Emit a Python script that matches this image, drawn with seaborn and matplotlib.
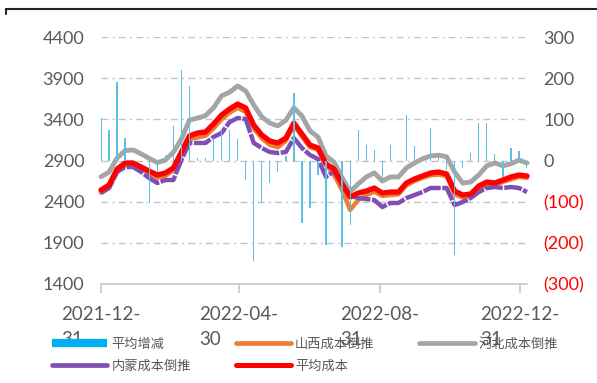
import numpy as np
import pandas as pd
import matplotlib
matplotlib.use("Agg")
import matplotlib.pyplot as plt
import seaborn as sns
from matplotlib.lines import Line2D

# ---------------- data ----------------
dates = pd.date_range("2021-12-31", periods=54, freq="7D")

hebei = [2703, 2760, 2930, 3020, 3028, 2980, 2925, 2875, 2905, 3000,
         3160, 3390, 3415, 3445, 3540, 3685, 3730, 3805, 3745, 3575,
         3430, 3355, 3320, 3390, 3540, 3440, 3260, 3185, 2955, 2880,
         2690, 2520, 2615, 2700, 2750, 2650, 2700, 2700, 2810, 2870,
         2920, 2955, 2965, 2945, 2760, 2625, 2640, 2725, 2835, 2870,
         2835, 2860, 2905, 2870]

avg_cost = [2542, 2602, 2797, 2870, 2870, 2821, 2772, 2724, 2748, 2809,
            3003, 3198, 3234, 3246, 3343, 3453, 3526, 3586, 3538, 3331,
            3210, 3137, 3113, 3173, 3356, 3222, 3088, 3052, 2857, 2797,
            2614, 2457, 2505, 2529, 2566, 2505, 2517, 2517, 2627, 2675,
            2712, 2748, 2760, 2736, 2529, 2481, 2493, 2590, 2639, 2627,
            2663, 2700, 2724, 2712]

shanxi = [2510, 2570, 2770, 2840, 2845, 2800, 2745, 2690, 2715, 2780,
          2970, 3160, 3180, 3200, 3290, 3400, 3480, 3540, 3490, 3290,
          3170, 3090, 3060, 3140, 3330, 3190, 3060, 3030, 2850, 2725,
          2540, 2300, 2420, 2480, 2520, 2470, 2480, 2490, 2600, 2650,
          2690, 2720, 2730, 2710, 2490, 2450, 2460, 2550, 2600, 2600,
          2640, 2670, 2700, 2690]

neimeng = [2505, 2566, 2760, 2821, 2821, 2760, 2687, 2627, 2663, 2663,
           2906, 3113, 3113, 3113, 3186, 3234, 3368, 3416, 3404, 3113,
           3052, 3003, 2991, 3003, 3173, 3052, 2967, 2918, 2700, 2772,
           2600, 2470, 2445, 2432, 2420, 2335, 2384, 2384, 2444, 2481,
           2517, 2566, 2566, 2566, 2359, 2396, 2444, 2517, 2566, 2578,
           2566, 2578, 2566, 2517]

avg_change = [103, 74, 191, 55, 2, -3, -103, -27, 13, 85,
              220, 180, 6, 6, 55, 74, 74, 52, -47, -245,
              -103, -55, -27, 10, 164, -152, -115, -35, -205, 0,
              -209, -157, 74, 38, 25, -47, 38, 0, 110, 35,
              3, 79, 8, -23, -229, -18, 18, 92, 92, 16,
              -39, 30, 24, -18]

tick_dates = ["2021-12-31", "2022-04-30", "2022-08-31", "2022-12-31"]
tick_labels = ["2021-12-\n31", "2022-04-\n30", "2022-08-\n31", "2022-12-\n31"]

left_ticks = [1400, 1900, 2400, 2900, 3400, 3900, 4400]
right_ticks = [-300, -200, -100, 0, 100, 200, 300]
right_labels = ["(300)", "(200)", "(100)", "0", "100", "200", "300"]

names = {"chg": "平均增减", "sx": "山西成本倒推", "hb": "河北成本倒推",
         "nm": "内蒙成本倒推", "avg": "平均成本"}

# ---------------- style ----------------
sns.set_theme(style="white")
plt.rcParams["font.family"] = ["Lato", "Noto Sans CJK SC", "DejaVu Sans"]

C_CYAN = "#00B0F0"
C_BAR = "#5CC0E2"
C_ORANGE = "#ED7D31"
C_GRAY = "#A5A5A5"
C_PURPLE = "#7F4FB5"
C_RED = "#FF0000"
TXT = "#595959"

W, H = 597, 383
fig = plt.figure(figsize=(W / 100, H / 100), dpi=100)
ax = fig.add_axes([101 / W, (H - 284) / H, 426 / W, 247 / H])

t0 = dates[0]
x = np.asarray((dates - t0).days / 7.0, dtype=float)

df = pd.DataFrame({"x": x, "hb": hebei, "avg": avg_cost, "sx": shanxi,
                   "nm": neimeng, "chg": avg_change})

sns.lineplot(data=df, x="x", y="sx", ax=ax, color=C_ORANGE, lw=3.2,
             clip_on=False, solid_joinstyle="round")
sns.lineplot(data=df, x="x", y="hb", ax=ax, color=C_GRAY, lw=3.5,
             clip_on=False, solid_joinstyle="round")
sns.lineplot(data=df, x="x", y="nm", ax=ax, color=C_PURPLE, lw=3.2,
             clip_on=False, linestyle=(0, (4.0, 0.35)), dash_joinstyle="round")
sns.lineplot(data=df, x="x", y="avg", ax=ax, color=C_RED, lw=3.8,
             clip_on=False, solid_joinstyle="round")

ax2 = ax.twinx()
sns.barplot(data=df, x="x", y="chg", ax=ax2, native_scale=True, width=0.16,
            color=C_BAR, saturation=1, errorbar=None, linewidth=0)

# ---------------- axes ----------------
ax.set_xlim(0, 53)
ax.set_ylim(1400, 4400)
ax2.set_ylim(-300, 300)

ax.set_yticks(left_ticks)
ax.set_yticklabels([str(v) for v in left_ticks])
ax2.set_yticks(right_ticks)
ax2.set_yticklabels(right_labels)
for lbl, v in zip(ax2.get_yticklabels(), right_ticks):
    lbl.set_color(C_RED if v < 0 else TXT)

tpos = [(pd.Timestamp(d) - t0).days / 7.0 for d in tick_dates]
ax.set_xticks(tpos)
ax.set_xticklabels(tick_labels)
for lbl in ax.get_xticklabels():
    lbl.set_multialignment("left")
    lbl.set_linespacing(1.6)

ax.set_xlabel("")
ax.set_ylabel("")
ax2.set_xlabel("")
ax2.set_ylabel("")

ax.grid(axis="y", color="#C4C4C4", lw=1.0, linestyle=(0, (5, 3, 1.5, 3)))
ax.grid(axis="x", visible=False)
ax2.grid(False)

for s in ["left", "top", "right"]:
    ax.spines[s].set_visible(False)
for s in ax2.spines.values():
    s.set_visible(False)
ax.spines["bottom"].set_color("#C8C8C8")
ax.spines["bottom"].set_linewidth(1.2)

ax.tick_params(axis="y", length=0, pad=12, labelsize=13, labelcolor=TXT)
ax2.tick_params(axis="y", length=0, pad=12, labelsize=13)
ax.tick_params(axis="x", length=6.5, width=1.2, color="#C8C8C8",
               direction="out", pad=9, labelsize=13.5, labelcolor=TXT,
               bottom=True)

# ---------------- legend ----------------
handles = [
    Line2D([], [], color=C_CYAN, lw=6, solid_capstyle="butt"),
    Line2D([], [], color=C_PURPLE, lw=3.4, solid_capstyle="round"),
    Line2D([], [], color=C_ORANGE, lw=3.4, solid_capstyle="round"),
    Line2D([], [], color=C_RED, lw=3.6, solid_capstyle="round"),
    Line2D([], [], color=C_GRAY, lw=3.4, solid_capstyle="round"),
]
labels = [names["chg"], names["nm"], names["sx"], names["avg"], names["hb"]]
fig.legend(handles, labels, loc="upper left", bbox_to_anchor=(52 / W, 1 - 338 / H),
           ncol=3, frameon=False, borderpad=0, borderaxespad=0,
           handlelength=4.2, handletextpad=0.3, columnspacing=3.4,
           labelspacing=0.65, labelcolor=TXT,
           prop={"family": ["Noto Sans CJK SC"], "size": 9.5})

# top frame line of the screenshot
fig.add_artist(Line2D([6 / W, 1], [1 - 9 / H, 1 - 9 / H], transform=fig.transFigure,
                      color="#222222", lw=1.5))
fig.add_artist(Line2D([6 / W, 6 / W], [1 - 9 / H, 1 - 14 / H], transform=fig.transFigure,
                      color="#222222", lw=1.5))

fig.savefig("out.png", dpi=100)
